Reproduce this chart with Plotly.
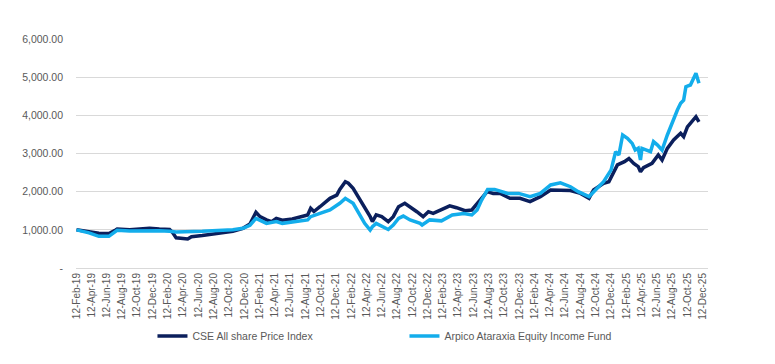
import plotly.graph_objects as go
import pandas as pd

cse_dates = ["2019-02-12","2019-03-10","2019-04-03","2019-05-12","2019-06-21","2019-07-18","2019-07-24",
             "2019-09-12","2019-11-30","2020-01-08","2020-02-18","2020-03-01","2020-03-15","2020-04-30",
             "2020-05-15","2020-06-27","2020-09-05","2020-10-27","2020-12-06","2021-01-03","2021-01-27",
             "2021-02-12","2021-03-10","2021-03-30","2021-04-18","2021-05-12","2021-06-21","2021-08-02",
             "2021-08-21","2021-09-02","2021-09-15","2021-10-09","2021-11-18","2021-12-15","2021-12-27",
             "2022-01-18","2022-01-30","2022-02-18","2022-03-15","2022-04-05","2022-04-27","2022-05-06",
             "2022-05-21","2022-06-12","2022-07-08","2022-07-28","2022-08-18","2022-09-12","2022-10-03",
             "2022-10-30","2022-11-24","2022-12-15","2023-01-03","2023-01-30","2023-03-10","2023-04-06",
             "2023-05-10","2023-06-06","2023-07-09","2023-08-06","2023-08-30","2023-09-27","2023-11-05",
             "2023-12-15","2024-01-24","2024-03-05","2024-04-15","2024-05-24","2024-07-03","2024-08-12",
             "2024-09-15","2024-10-03","2024-11-12","2024-12-03","2025-01-06","2025-02-03","2025-02-21",
             "2025-03-12","2025-03-30","2025-04-08","2025-04-20","2025-05-24","2025-06-18","2025-07-03",
             "2025-07-24","2025-08-18","2025-09-15","2025-09-27","2025-10-12","2025-11-15","2025-11-27"]
cse_values = [1000,985,950,910,905,995,1020,
              1000,1040,1020,1010,930,790,760,
              820,850,910,960,1040,1150,1460,
              1345,1260,1215,1300,1250,1285,1370,
              1390,1565,1480,1605,1825,1910,2060,
              2260,2220,2090,1825,1605,1345,1215,
              1390,1345,1215,1345,1605,1695,1605,
              1475,1345,1475,1430,1520,1630,1580,
              1500,1520,1780,2000,1955,1955,1825,
              1825,1740,1870,2045,2045,2030,1955,
              1825,2045,2220,2260,2700,2785,2870,
              2740,2655,2520,2630,2740,2960,2830,
              3135,3355,3530,3440,3700,3965,3830]

fund_dates = ["2019-02-12","2019-03-10","2019-04-03","2019-05-12","2019-06-21","2019-07-18","2019-07-24",
              "2019-09-12","2019-11-30","2020-01-08","2020-02-18","2020-03-15","2020-06-27","2020-09-05",
              "2020-10-27","2020-12-06","2021-01-03","2021-01-27","2021-03-10","2021-04-18","2021-05-12",
              "2021-08-21","2021-09-02","2021-10-09","2021-11-18","2021-12-27","2022-01-18","2022-02-18",
              "2022-03-15","2022-04-05","2022-04-27","2022-05-06","2022-05-21","2022-07-08","2022-07-28",
              "2022-08-18","2022-09-06","2022-10-03","2022-11-12","2022-11-20","2022-12-20","2023-02-05",
              "2023-03-20","2023-05-05","2023-06-06","2023-06-27","2023-07-15","2023-08-08","2023-09-05",
              "2023-10-27","2023-12-10","2024-01-24","2024-03-05","2024-04-15","2024-05-24","2024-07-03",
              "2024-08-03","2024-09-15","2024-10-03","2024-11-12","2024-12-12","2024-12-30","2025-01-12",
              "2025-01-27","2025-02-15","2025-03-06","2025-03-18","2025-03-30","2025-04-08","2025-04-14",
              "2025-05-18","2025-05-30","2025-06-15","2025-07-03","2025-07-24","2025-08-06","2025-08-18",
              "2025-09-02","2025-09-15","2025-09-27","2025-10-06","2025-10-24","2025-11-15","2025-11-27"]
fund_values = [1000,970,920,830,830,960,990,
               970,980,975,960,945,960,985,
               1000,1040,1120,1300,1170,1215,1170,
               1260,1345,1430,1520,1695,1825,1695,
               1430,1170,995,1080,1170,1010,1125,
               1300,1360,1260,1170,1125,1260,1235,
               1390,1430,1390,1520,1780,2060,2060,
               1955,1955,1870,1955,2175,2230,2130,
               2000,1870,1990,2260,2570,3050,2960,
               3485,3400,3265,3090,3135,2830,3135,
               3050,3310,3220,3090,3485,3700,3920,
               4140,4315,4400,4750,4795,5100,4840]

series_names = ["CSE All share Price Index", "Arpico Ataraxia Equity Income Fund"]
y_tick_vals = [0, 1000, 2000, 3000, 4000, 5000, 6000]
y_tick_text = ["-", "1,000.00", "2,000.00", "3,000.00", "4,000.00", "5,000.00", "6,000.00"]
x_tick_vals = [d.strftime("%Y-%m-12") for d in pd.date_range("2019-02-01", "2025-12-01", freq="2MS")]

fig = go.Figure()
fig.add_trace(go.Scatter(x=cse_dates, y=cse_values, mode="lines", name=series_names[0],
                         line=dict(color="#0B1F5C", width=3.5)))
fig.add_trace(go.Scatter(x=fund_dates, y=fund_values, mode="lines", name=series_names[1],
                         line=dict(color="#13ADEB", width=3.5)))

font_family = "Liberation Sans, Arial, sans-serif"
fig.update_layout(
    width=775, height=364,
    margin=dict(l=68, r=75, t=31, b=104, autoexpand=False),
    paper_bgcolor="white", plot_bgcolor="white",
    font=dict(family=font_family, color="#595959", size=10),
    showlegend=True,
    legend=dict(orientation="h", x=0.121, xanchor="left", y=-0.297, yanchor="middle",
                entrywidth=207, entrywidthmode="pixels",
                font=dict(size=10.5, color="#595959", family=font_family),
                bgcolor="rgba(0,0,0,0)"),
    xaxis=dict(type="date", range=["2019-02-10", "2026-01-02"], automargin=False,
               tickvals=x_tick_vals, tickformat="%d-%b-%y", tickangle=-90,
               showgrid=False, showline=True, linecolor="#D9D9D9", linewidth=1,
               ticks="", zeroline=False, tickfont=dict(size=10, color="#595959")),
    yaxis=dict(range=[0, 6000], tickvals=y_tick_vals, ticktext=y_tick_text, automargin=False,
               showgrid=True, gridcolor="#D9D9D9", gridwidth=1, zeroline=False,
               showline=False, ticks="", ticklabelstandoff=12,
               tickfont=dict(size=10.5, color="#595959")),
)

fig.write_html("out.html")
